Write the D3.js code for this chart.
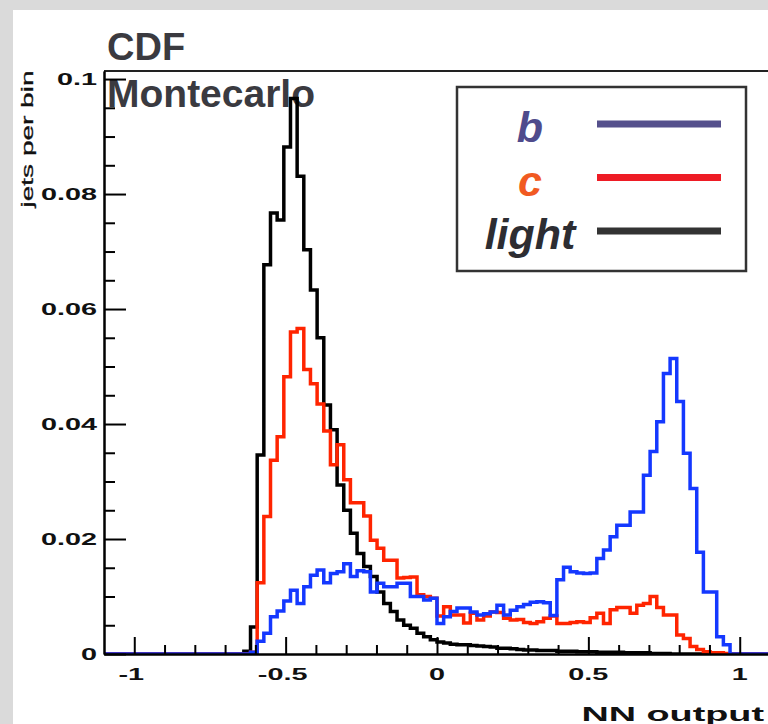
<!DOCTYPE html>
<html>
<head>
<meta charset="utf-8">
<script src="https://cdn.jsdelivr.net/npm/d3@7"></script>
<style>
  html, body { margin: 0; padding: 0; background: #dadada; }
  svg { display: block; }
</style>
</head>
<body>
<svg id="chart" width="768" height="724"></svg>
<script>
// histogram: 100 bins from -1.1 to 1.1 (NN output), values = jets per bin
var xMin = -1.1, xMax = 1.1, nBins = 100;

var bValues = [
  0,0,0,0,0,0,0,0,0,0, 0,0,0,0,0,0,0,0,0,0,
  0,0,0.0003,0.0022,0.0036,0.0065,0.0075,0.0092,0.0111,0.0088,
  0.0117,0.0137,0.0146,0.0124,0.0140,0.0143,0.0157,0.0135,0.0145,0.0143,
  0.0108,0.0123,0.0117,0.0117,0.0123,0.0123,0.0100,0.0100,0.0094,0.0097,
  0.0053,0.0065,0.0074,0.0080,0.0080,0.0073,0.0068,0.0070,0.0073,0.0085,
  0.0068,0.0076,0.0082,0.0086,0.0090,0.0091,0.0089,0.0067,0.0129,0.0151,
  0.0143,0.0141,0.0140,0.0141,0.0166,0.0181,0.0204,0.0224,0.0224,0.0247,
  0.0247,0.0311,0.0352,0.0404,0.0488,0.0514,0.0439,0.0349,0.0288,0.0177,
  0.0108,0.0108,0.0030,0.0016,0,0,0,0,0,0
];

var cValues = [
  0,0,0,0,0,0,0,0,0,0, 0,0,0,0,0,0,0,0,0,0,
  0,0,0.0003,0.0124,0.0239,0.0337,0.0378,0.0482,0.0560,0.0566,
  0.0495,0.0470,0.0435,0.0388,0.0329,0.0364,0.0303,0.0263,0.0263,0.0240,
  0.0198,0.0184,0.0163,0.0163,0.0132,0.0133,0.0134,0.0103,0.0100,0.0097,
  0.0066,0.0082,0.0068,0.0068,0.0054,0.0071,0.0059,0.0066,0.0073,0.0072,
  0.0062,0.0059,0.0060,0.0055,0.0053,0.0056,0.0062,0.0066,0.0053,0.0053,
  0.0055,0.0056,0.0055,0.0063,0.0071,0.0053,0.0077,0.0081,0.0081,0.0071,
  0.0085,0.0088,0.0100,0.0081,0.0068,0.0068,0.0033,0.0027,0.0013,0.0008,
  0.0004,0.0002,0.0002,0.0001,0,0,0,0,0,0
];

var lightValues = [
  0,0,0,0,0,0,0,0,0,0, 0,0,0,0,0,0,0,0,0,0,
  0,0.0005,0.0047,0.0346,0.0677,0.0767,0.0755,0.0882,0.0966,0.0831,
  0.0703,0.0633,0.0550,0.0433,0.0390,0.0294,0.0250,0.0210,0.0175,0.0152,
  0.0135,0.0108,0.0088,0.0074,0.0059,0.0050,0.0045,0.0036,0.0030,0.0025,
  0.0021,0.0019,0.0017,0.0016,0.0016,0.0015,0.0014,0.0013,0.0012,0.0010,
  0.0010,0.0009,0.0008,0.0007,0.0007,0.0006,0.0006,0.0006,0.0005,0.0005,
  0.0005,0.0004,0.0004,0.0004,0.0003,0.0003,0.0003,0.0003,0.0002,0.0002,
  0.0002,0.0002,0.0001,0.0001,0.0001,0,0,0,0,0,
  0,0,0,0,0,0,0,0,0,0
];

var seriesNames = ["b", "c", "light"];
var lineColors = ["#55508c", "#ee1c25", "#333333"];
var textColors = ["#4f4b8c", "#f15a22", "#2d2d32"];
var histColors = ["#1438ff", "#ff2400", "#000000"];

var xMajor = [-1, -0.5, 0, 0.5, 1];
var xTickLabels = ["-1", "-0.5", "0", "0.5", "1"];
var xMinor = [-0.9, -0.8, -0.7, -0.6, -0.4, -0.3, -0.2, -0.1, 0.1, 0.2, 0.3, 0.4, 0.6, 0.7, 0.8, 0.9];
var yMajor = [0, 0.02, 0.04, 0.06, 0.08, 0.1];
var yTickLabels = ["0", "0.02", "0.04", "0.06", "0.08", "0.1"];
var yMinor = [0.005, 0.01, 0.015, 0.025, 0.03, 0.035, 0.045, 0.05, 0.055, 0.065, 0.07, 0.075, 0.085, 0.09, 0.095];
var yTop = 0.1014;

var w = 768, h = 724;
var margin = { top: 71, right: -2, bottom: 70, left: 104 };

var svg = d3.select("#chart");

// page background + white panel
svg.append("rect").attr("width", w).attr("height", h).attr("fill", "#dadada");
svg.append("rect").attr("x", 13).attr("y", 10).attr("width", w - 13).attr("height", h - 10).attr("fill", "#ffffff");

var xScale = d3.scaleLinear().domain([xMin, xMax]).range([margin.left, w - margin.right]);
var yScale = d3.scaleLinear().domain([0, yTop]).range([h - margin.bottom, margin.top]);

var binW = (xMax - xMin) / nBins;

// titles
svg.append("text").attr("x", 107).attr("y", 60).text("CDF")
  .style("font", "bold 38px 'Liberation Sans', Arial, sans-serif").attr("fill", "#3a3a40");
svg.append("text").attr("x", 107).attr("y", 107).text("Montecarlo")
  .style("font", "bold 39px 'Liberation Sans', Arial, sans-serif").attr("fill", "#3a3a40");

// histograms
svg.append("clipPath").attr("id", "plotclip").append("rect")
  .attr("x", margin.left).attr("y", margin.top - 5)
  .attr("width", w - margin.left - margin.right).attr("height", h - margin.top - margin.bottom + 5);

var line = d3.line()
  .x(function(d) { return xScale(d[0]); })
  .y(function(d) { return yScale(d[1]); })
  .curve(d3.curveStepAfter);

function histPoints(values) {
  var pts = values.map(function(v, i) { return [xMin + i * binW, v]; });
  pts.push([xMax, values[values.length - 1]]);
  return pts;
}

var hists = [
  { values: lightValues, color: histColors[2] },
  { values: cValues, color: histColors[1] },
  { values: bValues, color: histColors[0] }
];

svg.append("g").attr("clip-path", "url(#plotclip)")
  .selectAll("path")
  .data(hists)
  .enter()
  .append("path")
  .attr("d", function(d) { return line(histPoints(d.values)); })
  .attr("fill", "none")
  .attr("stroke", function(d) { return d.color; })
  .attr("stroke-width", 3.5)
  .attr("stroke-linejoin", "miter");

// frame
svg.append("line")
  .attr("x1", margin.left).attr("x2", w - margin.right)
  .attr("y1", margin.top).attr("y2", margin.top)
  .attr("stroke", "#222").attr("stroke-width", 2);

// y axis (ticks inward)
function styleAxis(g) {
  g.select(".domain").attr("stroke", "#000").attr("stroke-width", 2);
  g.selectAll(".tick line").attr("stroke", "#000").attr("stroke-width", 2);
}
svg.append("g")
  .attr("transform", "translate(" + margin.left + ",0)")
  .call(d3.axisRight(yScale).tickValues(yMajor).tickSize(22).tickSizeOuter(0).tickFormat(""))
  .call(styleAxis);
svg.append("g")
  .attr("transform", "translate(" + margin.left + ",0)")
  .call(d3.axisRight(yScale).tickValues(yMinor).tickSize(11).tickSizeOuter(0).tickFormat(""))
  .call(styleAxis);

// x axis (ticks pointing up)
svg.append("g")
  .attr("transform", "translate(0," + (h - margin.bottom) + ")")
  .call(d3.axisTop(xScale).tickValues(xMajor).tickSize(17).tickSizeOuter(0).tickFormat(""))
  .call(styleAxis);
svg.append("g")
  .attr("transform", "translate(0," + (h - margin.bottom) + ")")
  .call(d3.axisTop(xScale).tickValues(xMinor).tickSize(9).tickSizeOuter(0).tickFormat(""))
  .call(styleAxis);

// tick labels (wide bold face)
var labelFont = "bold 16px 'Liberation Sans', Arial, sans-serif";
svg.append("g").selectAll("g")
  .data(yMajor)
  .enter()
  .append("g")
  .attr("transform", function(d) { return "translate(97," + (yScale(d) + 6) + ")"; })
  .append("text")
  .attr("transform", "scale(1.8,1)")
  .attr("text-anchor", "end")
  .style("font", labelFont)
  .attr("fill", "#111")
  .text(function(d, i) { return yTickLabels[i]; });

svg.append("g").selectAll("g")
  .data(xMajor)
  .enter()
  .append("g")
  .attr("transform", function(d) { return "translate(" + (xScale(d) - (d < 0 ? 3 : 0)) + ",680)"; })
  .append("text")
  .attr("transform", "scale(1.8,1)")
  .attr("text-anchor", "middle")
  .style("font", labelFont)
  .attr("fill", "#111")
  .text(function(d, i) { return xTickLabels[i]; });

// axis titles
svg.append("g").attr("transform", "translate(764,721)")
  .append("text")
  .attr("transform", "scale(1.8,1)")
  .attr("text-anchor", "end")
  .style("font", "bold 21px 'Liberation Sans', Arial, sans-serif")
  .attr("fill", "#111")
  .text("NN output");

svg.append("g").attr("transform", "translate(33,139) rotate(-90)")
  .append("text")
  .attr("transform", "scale(1.75,1)")
  .attr("text-anchor", "middle")
  .style("font", "16px 'Liberation Sans', Arial, sans-serif")
  .attr("fill", "#111")
  .attr("stroke", "#111")
  .attr("stroke-width", 0.3)
  .text("jets per bin");

// legend
var legend = svg.append("g");
legend.append("rect")
  .attr("x", 457).attr("y", 87).attr("width", 289).attr("height", 184)
  .attr("fill", "#fff").attr("stroke", "#333").attr("stroke-width", 2.5);

var rows = legend.selectAll("g.row")
  .data(seriesNames)
  .enter()
  .append("g")
  .attr("class", "row")
  .attr("transform", function(d, i) { return "translate(0," + (i * 53.5) + ")"; });

rows.append("text")
  .attr("x", 530).attr("y", 142)
  .attr("text-anchor", "middle")
  .style("font", "italic bold 43px 'Liberation Sans', Arial, sans-serif")
  .attr("fill", function(d, i) { return textColors[i]; })
  .text(function(d) { return d; });

rows.append("line")
  .attr("x1", 597).attr("x2", 721)
  .attr("y1", 124).attr("y2", 124)
  .attr("stroke", function(d, i) { return lineColors[i]; })
  .attr("stroke-width", 7);
</script>
</body>
</html>
